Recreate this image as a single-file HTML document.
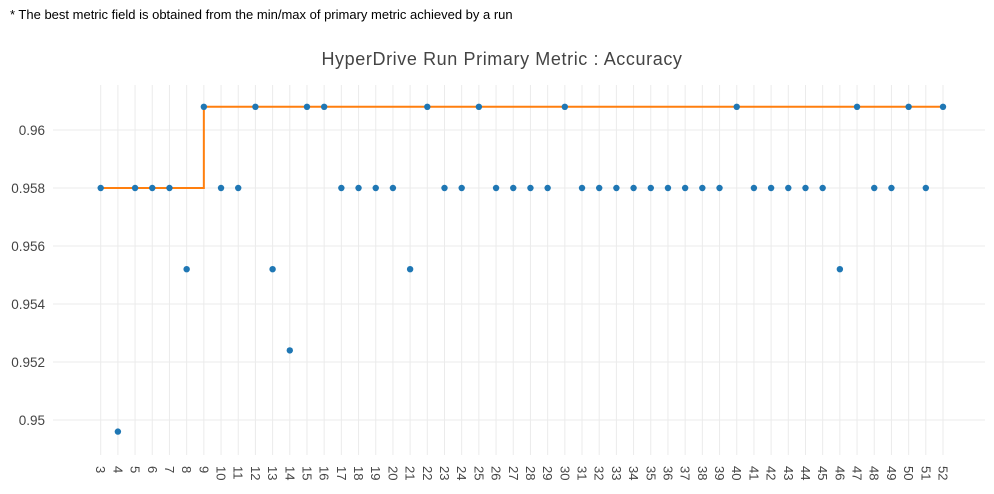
<!DOCTYPE html>
<html><head><meta charset="utf-8"><style>
body{margin:0;background:#fff;width:994px;height:494px;overflow:hidden;font-family:"Liberation Sans",sans-serif}
#note{position:absolute;left:10px;top:7px;font-size:13px;color:#000}
svg{position:absolute;left:0;top:0}
</style></head><body>
<div id="note">* The best metric field is obtained from the min/max of primary metric achieved by a run</div>
<svg id="chart" width="994" height="494"></svg>
<script>
const categories=[3,4,5,6,7,8,9,10,11,12,13,14,15,16,17,18,19,20,21,22,23,24,25,26,27,28,29,30,31,32,33,34,35,36,37,38,39,40,41,42,43,44,45,46,47,48,49,50,51,52];
const accuracy=[0.958,0.9496,0.958,0.958,0.958,0.9552,0.9608,0.958,0.958,0.9608,0.9552,0.9524,0.9608,0.9608,0.958,0.958,0.958,0.958,0.9552,0.9608,0.958,0.958,0.9608,0.958,0.958,0.958,0.958,0.9608,0.958,0.958,0.958,0.958,0.958,0.958,0.958,0.958,0.958,0.9608,0.958,0.958,0.958,0.958,0.958,0.9552,0.9608,0.958,0.958,0.9608,0.958,0.9608];
const yTicks=[0.95,0.952,0.954,0.956,0.958,0.96];
const yTickLabels=["0.95","0.952","0.954","0.956","0.958","0.96"];
const NS="http://www.w3.org/2000/svg";
const svg=document.getElementById('chart');
const L=53,R=985,T=85,B=455;
const x0=100.7,step=(943-100.7)/49;
function xs(i){return x0+i*step;}
function ys(v){return 130+(0.96-v)*29000;}
function mk(tag,attrs,parent){const e=document.createElementNS(NS,tag);for(const k in attrs)e.setAttribute(k,attrs[k]);(parent||svg).appendChild(e);return e;}
const t=mk('text',{x:502,y:65,'text-anchor':'middle','font-size':18,fill:'#444','letter-spacing':'0.6'});


t.textContent='HyperDrive Run Primary Metric : Accuracy';
categories.forEach((c,i)=>{
 const g=mk('line',{x1:xs(i),x2:xs(i),y1:T,y2:B,stroke:'#ebebeb','stroke-width':1});
 
 
 const lx=xs(i),ly=466;
 const lb=mk('text',{x:lx,y:ly,transform:`rotate(90 ${lx} ${ly})`,'font-size':13,fill:'#444','dominant-baseline':'central'});
 
 
 lb.textContent=c;
});
yTicks.forEach((v,i)=>{
 const g=mk('line',{x1:L,x2:R,y1:ys(v),y2:ys(v),stroke:'#ebebeb','stroke-width':1});
 
 
 const lb=mk('text',{x:45,y:ys(v)+5,'text-anchor':'end','font-size':13.5,fill:'#444'});
 
 
 lb.textContent=yTickLabels[i];
});
let best=-Infinity,d='';
accuracy.forEach((v,i)=>{best=Math.max(best,v);const x=xs(i),y=ys(best);d+=i===0?`M${x},${y}`:`H${x}V${y}`;});
const p=mk('path',{d:d,fill:'none',stroke:'#ff7f0e','stroke-width':2});


accuracy.forEach((v,i)=>{
 const c=mk('circle',{cx:xs(i),cy:ys(v),r:3.2,fill:'#1f77b4'});
 
 
});
</script>
</body></html>
